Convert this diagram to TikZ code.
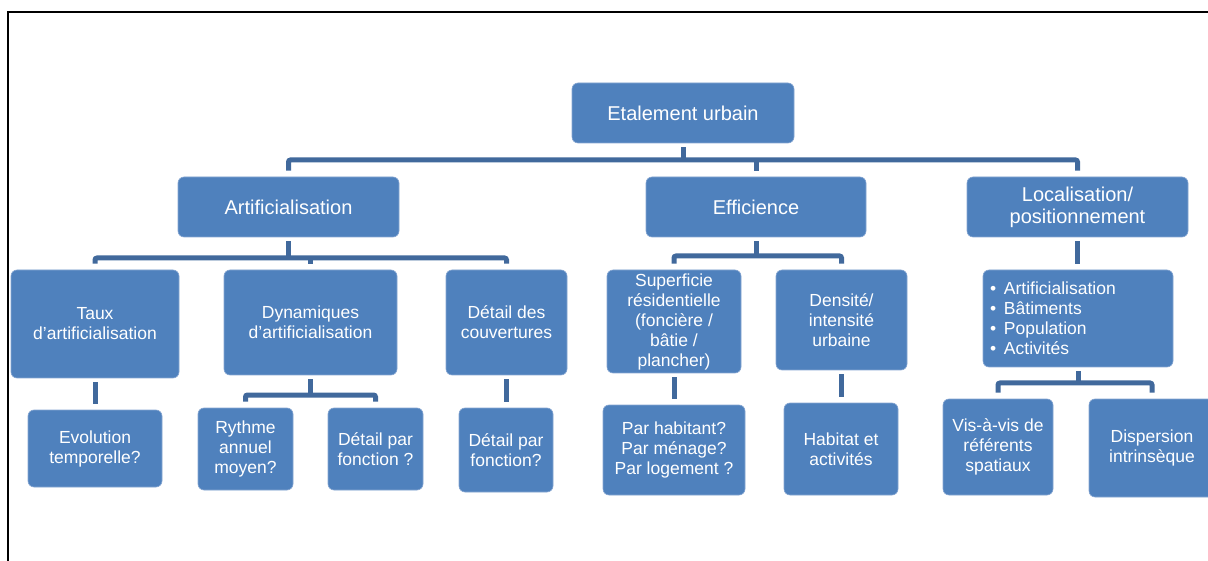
\documentclass[tikz,border=0pt]{standalone}
\usepackage{fontspec}
\setmainfont{Liberation Sans}
\definecolor{boxblue}{HTML}{4F81BD}
\definecolor{boxedge}{HTML}{86A6D2}
\definecolor{connblue}{HTML}{41699C}
\tikzset{
  box/.style={draw=boxedge, line width=0.6pt, fill=boxblue, rounded corners=6pt,
    text=white, align=center, inner sep=2pt},
  sz/.style 2 args={minimum width=#1, minimum height=#2},
  lvlA/.style={font=\fontsize{20}{22}\selectfont},
  lvlB/.style={font=\fontsize{17.5}{20}\selectfont},
  conn/.style={draw=connblue, line width=5pt},
  bus/.style={conn, rounded corners=2pt},
  frameline/.style={draw=black, line width=2pt}
}
\begin{document}
\begin{tikzpicture}[x=1pt,y=-1pt]
\useasboundingbox (0,0) rectangle (1208,561);
\clip (0,0) rectangle (1208,561);
\fill[white] (0,0) rectangle (1208,561);
\draw[frameline] (8,600) -- (8,12) -- (1230,12);

% level 0 and 1
\node[box,lvlA,sz={222pt}{60pt}] (root) at (683,113) {Etalement urbain};
\node[box,lvlA,sz={221pt}{60pt}] (artif) at (288.5,207) {Artificialisation};
\node[box,lvlA,sz={220pt}{60pt}] (effic) at (756,207) {Efficience};
\node[box,lvlA,sz={221pt}{60pt}] (local) at (1077.5,207) {Localisation/\\positionnement};

% level 2
\node[box,lvlB,sz={168pt}{108pt}] (taux) at (95,324) {Taux\\d’artificialisation};
\node[box,lvlB,sz={173pt}{105pt}] (dyn) at (310.5,322.5) {Dynamiques\\d'artificialisation};
\node[box,lvlB,sz={121pt}{105pt}] (couv) at (506.5,322.5) {Détail des\\couvertures};
\node[box,lvlB,sz={134pt}{103pt}] (superf) at (674,321.5) {Superficie\\résidentielle\\(foncière /\\bâtie /\\plancher)};
\node[box,lvlB,sz={131pt}{100pt}] (dens) at (841.5,320) {Densité/\\intensité\\urbaine};
\node[box,lvlB,sz={190pt}{97pt},align=left,text width=176pt,inner xsep=7pt] (bull) at (1078,318.5)
  {•\hspace{0.45em}Artificialisation\\•\hspace{0.45em}Bâtiments\\•\hspace{0.45em}Population\\•\hspace{0.45em}Activités};

% level 3
\node[box,lvlB,sz={134pt}{77pt}] (evol) at (95,448.5) {Evolution\\temporelle?};
\node[box,lvlB,sz={95pt}{82pt}] (ryth) at (245.5,449) {Rythme\\annuel\\moyen?};
\node[box,lvlB,sz={95pt}{82pt}] (fonca) at (375.5,449) {Détail par\\fonction ?};
\node[box,lvlB,sz={94pt}{84pt}] (foncb) at (506,450) {Détail par\\fonction?};
\node[box,lvlB,sz={142pt}{90pt}] (parhab) at (674,450) {Par habitant?\\Par ménage?\\Par logement ?};
\node[box,lvlB,sz={114pt}{92pt}] (habit) at (841,449) {Habitat et\\activités};
\node[box,lvlB,sz={110pt}{96pt}] (visa) at (998,447) {Vis-à-vis de\\référents\\spatiaux};
\node[box,lvlB,sz={126pt}{98pt}] (disp) at (1152,448) {Dispersion\\intrinsèque};

% connectors
\coordinate (b1) at (0,160);
\coordinate (b2) at (0,258);
\coordinate (b3) at (0,395);
\coordinate (b4) at (0,256);
\coordinate (b5) at (0,383);

\draw[conn] ([yshift=-4pt]root.south) -- (root.south |- b1);
\draw[bus] ([yshift=6pt]artif.north) -- (artif.north |- b1) -- (local.north |- b1) -- ([yshift=6pt]local.north);
\draw[conn] (effic.north |- b1) -- ([yshift=6pt]effic.north);

\draw[conn] ([yshift=-4pt]artif.south) -- (artif.south |- b2);
\draw[bus] ([yshift=6pt]taux.north) -- (taux.north |- b2) -- (couv.north |- b2) -- ([yshift=6pt]couv.north);
\draw[conn] (dyn.north |- b2) -- ([yshift=6pt]dyn.north);

\draw[conn] ([yshift=-4pt]taux.south) -- ([yshift=6pt]evol.north);
\draw[conn] ([yshift=-4pt]dyn.south) -- (dyn.south |- b3);
\draw[bus] ([yshift=6pt]ryth.north) -- (ryth.north |- b3) -- (fonca.north |- b3) -- ([yshift=6pt]fonca.north);
\draw[conn] ([yshift=-4pt]couv.south) -- ([yshift=6pt]couv.south |- foncb.north);

\draw[conn] ([yshift=-4pt]effic.south) -- (effic.south |- b4);
\draw[bus] ([yshift=6pt]superf.north) -- (superf.north |- b4) -- (dens.north |- b4) -- ([yshift=6pt]dens.north);
\draw[conn] ([yshift=-4pt]superf.south) -- ([yshift=6pt]superf.south |- parhab.north);
\draw[conn] ([yshift=-4pt]dens.south) -- ([yshift=6pt]dens.south |- habit.north);

\draw[conn] ([yshift=-4pt]local.south) -- ([yshift=6pt]local.south |- bull.north);
\draw[conn] ([yshift=-4pt]bull.south) -- (bull.south |- b5);
\draw[bus] ([yshift=6pt]visa.north) -- (visa.north |- b5) -- (disp.north |- b5) -- ([yshift=6pt]disp.north);
\end{tikzpicture}
\end{document}
